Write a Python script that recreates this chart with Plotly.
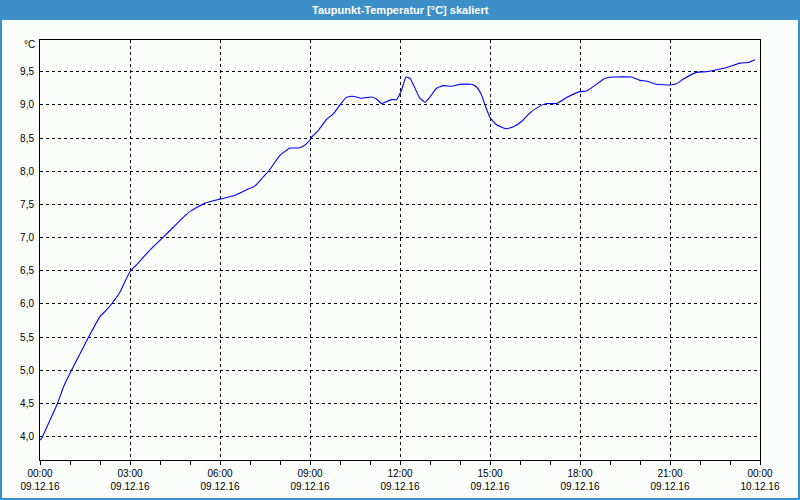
import plotly.graph_objects as go

# --- data ---
times = ["00:00", "00:03", "00:20", "00:35", "00:47", "01:03", "01:20", "01:37", "02:00", "02:13",
         "02:23", "02:40", "03:00", "03:13", "03:37", "04:07", "04:27", "04:47", "05:03", "05:30",
         "06:00", "06:30", "06:53", "07:10", "07:27", "07:37", "08:00", "08:20", "08:37", "08:47",
         "08:59", "09:03", "09:17", "09:33", "09:47", "10:00", "10:12", "10:23", "10:33", "10:41",
         "10:52", "11:03", "11:13", "11:23", "11:33", "11:43", "11:53", "12:03", "12:12", "12:20",
         "12:27", "12:39", "12:50", "13:00", "13:13", "13:27", "13:43", "14:00", "14:23", "14:33",
         "14:43", "14:50", "15:00", "15:13", "15:32", "15:47", "16:03", "16:20", "16:37", "16:53",
         "17:13", "17:33", "18:00", "18:13", "18:33", "18:50", "19:07", "19:43", "20:00", "20:13",
         "20:33", "21:00", "21:13", "21:27", "21:53", "22:13", "22:40", "23:00", "23:20", "23:37",
         "23:50"]
values = [3.95, 3.97, 4.25, 4.50, 4.75, 5.00, 5.25, 5.50, 5.81, 5.91,
          6.00, 6.18, 6.49, 6.59, 6.79, 7.01, 7.16, 7.31, 7.41, 7.52,
          7.58, 7.64, 7.72, 7.78, 7.92, 8.00, 8.24, 8.35, 8.35, 8.38,
          8.46, 8.51, 8.62, 8.78, 8.87, 9.00, 9.11, 9.13, 9.12, 9.10,
          9.11, 9.12, 9.09, 9.02, 9.05, 9.08, 9.08, 9.22, 9.42, 9.40,
          9.30, 9.11, 9.04, 9.12, 9.25, 9.29, 9.28, 9.31, 9.31, 9.27,
          9.15, 9.00, 8.81, 8.70, 8.64, 8.67, 8.75, 8.88, 8.97, 9.02,
          9.02, 9.11, 9.20, 9.21, 9.31, 9.40, 9.42, 9.42, 9.37, 9.36,
          9.31, 9.30, 9.32, 9.39, 9.49, 9.50, 9.54, 9.58, 9.63, 9.64,
          9.68]
day = "2016-12-09"
y_tickvals = [4.0, 4.5, 5.0, 5.5, 6.0, 6.5, 7.0, 7.5, 8.0, 8.5, 9.0, 9.5]
y_ticktext = ["4,0", "4,5", "5,0", "5,5", "6,0", "6,5", "7,0", "7,5", "8,0", "8,5", "9,0", "9,5"]
title_text = "Taupunkt-Temperatur [°C] skaliert"
unit_text = "°C"

x = [f"{day} {t}" for t in times]

W, H = 800, 500
L, R, T, B = 40, 40, 40, 40
pw, ph = W - L - R, H - T - B

def px(xp):
    return (xp - L) / pw

def py(yp):
    return (H - B - yp) / ph

blue = "#3d8fc7"
bg = "#fbfdfb"
font = "Liberation Sans"

fig = go.Figure()
fig.add_trace(go.Scatter(x=x, y=values, mode="lines",
                         line=dict(color="#0000ff", width=1.1, shape="spline", smoothing=0.4),
                         hoverinfo="skip", showlegend=False))

fig.update_layout(
    width=W, height=H,
    margin=dict(l=L, r=R, t=T, b=B, pad=0, autoexpand=False),
    paper_bgcolor=bg, plot_bgcolor=bg,
    font=dict(family=font, size=10, color="#000000"),
    showlegend=False,
    xaxis=dict(
        type="date",
        range=["2016-12-09 00:00", "2016-12-10 00:00"],
        tick0="2016-12-09 00:00", dtick=3 * 3600000,
        tickformat="%H:%M<br>%d.%m.%y",
        ticks="outside", ticklen=4, tickcolor="#000", tickwidth=1,
        showgrid=True, gridcolor="#000", gridwidth=1, griddash="3px,3px",
        showline=True, linecolor="#000", linewidth=1, mirror=True,
        zeroline=False, automargin=False,
        minor=dict(dtick=3600000, tick0="2016-12-09 00:00", ticks="outside",
                   ticklen=4, tickcolor="#000", tickwidth=1, showgrid=False),
        tickfont=dict(family=font, size=10, color="#000"),
        fixedrange=True,
    ),
    yaxis=dict(
        range=[3.649, 9.978],
        tickvals=y_tickvals, ticktext=y_ticktext,
        ticks="", ticklabelstandoff=3,
        showgrid=True, gridcolor="#000", gridwidth=1, griddash="3px,3px",
        showline=True, linecolor="#000", linewidth=1, mirror=True,
        zeroline=False, automargin=False,
        tickfont=dict(family=font, size=10, color="#000"),
        fixedrange=True,
    ),
    shapes=[
        dict(type="rect", xref="paper", yref="paper",
             x0=px(0), x1=px(W), y0=py(20), y1=py(0),
             fillcolor=blue, line=dict(width=0), layer="above"),
        dict(type="rect", xref="paper", yref="paper",
             x0=px(1), x1=px(W - 1), y0=py(H - 1), y1=py(1),
             fillcolor="rgba(0,0,0,0)", line=dict(color=blue, width=2), layer="above"),
    ],
    annotations=[
        dict(text=title_text, xref="paper", yref="paper", x=px(W / 2), y=py(10),
             xanchor="center", yanchor="middle", showarrow=False,
             font=dict(family=font, size=11, color="#ffffff", weight="bold")),
        dict(text=unit_text, xref="paper", yref="paper", x=px(37), y=py(45),
             xanchor="right", yanchor="middle", showarrow=False,
             font=dict(family=font, size=10, color="#000")),
    ],
)

fig.write_html("out.html", config={"displayModeBar": False},
               post_script="document.body.style.margin='0px';document.body.style.overflow='hidden';")
